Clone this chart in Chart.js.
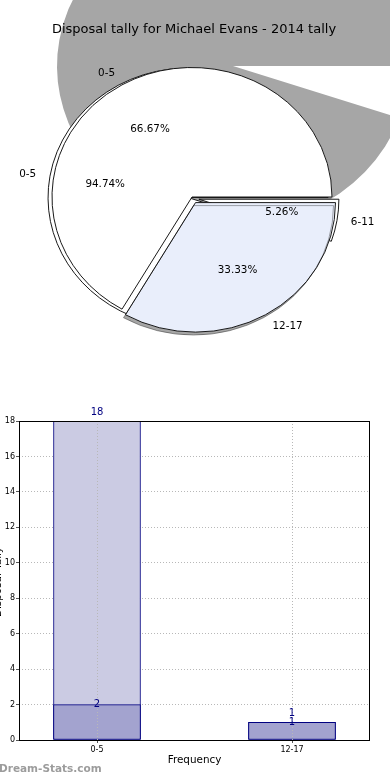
<!DOCTYPE html>
<html>
<head>
<meta charset="utf-8">
<script src="https://cdn.jsdelivr.net/npm/chart.js@4.4.0/dist/chart.umd.min.js"></script>
<style>
  html, body { margin: 0; padding: 0; background: #fff; }
  #page { position: relative; width: 390px; height: 780px; overflow: hidden; }
  canvas { position: absolute; }
</style>
</head>
<body>
<div id="page">
  <canvas id="shadowPie"></canvas>
  <canvas id="pieA"></canvas>
  <canvas id="pieB"></canvas>
  <canvas id="bars"></canvas>
</div>
<script>
const chartTitle = "Disposal tally for Michael Evans - 2014 tally";

// first pie: 0-5 against 6-11
const pieLabelsA = ["0-5", "6-11"];
const pieValuesA = [18, 1];

// second pie: 0-5 against 12-17
const pieLabelsB = ["0-5", "12-17"];
const pieValuesB = [2, 1];

// bar chart (two overlapping series)
const barLabels = ["0-5", "12-17"];
const barValuesBack = [18, 1];
const barValuesFront = [2, 1];
const yTicks = [0, 2, 4, 6, 8, 10, 12, 14, 16, 18];

const FONT = '"DejaVu Sans", sans-serif';

// pies whose labels get written on the top pie canvas
const labelledPies = [];

function placeCanvas(id, left, top, w, h) {
  const c = document.getElementById(id);
  c.width = w;
  c.height = h;
  c.style.left = left + "px";
  c.style.top = top + "px";
  c.style.width = w + "px";
  c.style.height = h + "px";
  return c;
}

// matplotlib lays wedges out counter-clockwise from 3 o'clock,
// Chart.js goes clockwise, so hand the slices over back to front
const rev = (a) => a.slice().reverse();

// wedge labels + percentages, placed the way matplotlib does it
function drawPieText(ctx, chart) {
  const squash = chart.options.plugins.mplPie.squash;
  const ds = chart.data.datasets[0];
  const total = ds.data.reduce((s, v) => s + v, 0);
  ctx.font = "10.4px " + FONT;
  chart.getDatasetMeta(0).data.forEach((arc, i) => {
    const mid = (arc.startAngle + arc.endAngle) / 2;
    const r = arc.outerRadius;
    const d = ds.explode[i];
    const c = Math.cos(mid), s = Math.sin(mid);
    ctx.textAlign = c > 0 ? "left" : "right";
    ctx.fillText(chart.data.labels[i], arc.x + c * (1.1 * r + d), arc.y + s * (1.1 * r + d) * squash);
    ctx.textAlign = "center";
    const pct = (ds.data[i] / total * 100).toFixed(2) + "%";
    ctx.fillText(pct, arc.x + c * (0.6 * r + d), arc.y + s * (0.6 * r + d) * squash);
  });
}

// draws the arcs squashed into an ellipse, with exploded wedges
const piePlugin = {
  id: "mplPie",
  beforeDatasetDraw(chart, args, opts) {
    const ctx = chart.ctx;
    const ds = chart.data.datasets[args.index];
    args.meta.data.forEach((arc, i) => {
      const mid = (arc.startAngle + arc.endAngle) / 2;
      const d = ds.explode[i];
      ctx.save();
      ctx.translate(arc.x, arc.y);
      ctx.scale(1, opts.squash);
      ctx.translate(-arc.x, -arc.y);
      if (ds.shadow[i]) {
        ctx.shadowColor = ds.shadow[i];
        ctx.shadowOffsetX = -2;
        ctx.shadowOffsetY = 3;
      }
      ctx.translate(Math.cos(mid) * d, Math.sin(mid) * d);
      arc.draw(ctx);
      ctx.restore();
    });
    return false;
  },
  afterDraw(chart, args, opts) {
    if (!opts.text) return;
    const ctx = chart.ctx;
    ctx.save();
    ctx.fillStyle = "#000";
    ctx.textBaseline = "middle";
    ctx.font = "13px " + FONT;
    ctx.textAlign = "center";
    ctx.fillText(chartTitle, 194, 30);
    labelledPies.forEach((c) => drawPieText(ctx, c));
    ctx.restore();
  },
};

function makePie(id, box, geo, s) {
  const canvas = placeCanvas(id, box.left, box.top, box.w, box.h);
  const half = geo.r + s.borderWidth / 2;
  const px = geo.cx - box.left;
  const py = geo.cy - box.top;
  return new Chart(canvas, {
    type: "pie",
    data: {
      labels: rev(s.labels),
      datasets: [{
        data: rev(s.values),
        backgroundColor: rev(s.colors),
        borderColor: "#111",
        borderWidth: s.borderWidth,
        explode: rev(s.explode),
        shadow: rev(s.shadow),
      }],
    },
    options: {
      responsive: false,
      animation: false,
      events: [],
      rotation: 90,
      layout: {
        padding: { left: px - half, right: box.w - px - half, top: py - half, bottom: box.h - py - half },
      },
      plugins: {
        legend: { display: false },
        tooltip: { enabled: false },
        mplPie: { squash: geo.k, text: !!s.text },
      },
    },
    plugins: [piePlugin],
  });
}

// the big grey shadow that sits behind everything
makePie("shadowPie", { left: 0, top: -200, w: 420, h: 480 }, { cx: 233, cy: 66, r: 176, k: 0.91 }, {
  labels: pieLabelsA, values: pieValuesA,
  colors: ["#a6a6a6", "rgba(0,0,0,0)"],
  explode: [0, 0], shadow: [null, null], borderWidth: 0,
});

const pieA = makePie("pieA", { left: 0, top: 0, w: 390, h: 360 }, { cx: 191, cy: 198, r: 140, k: 0.925 }, {
  labels: pieLabelsA, values: pieValuesA,
  colors: ["#ffffff", "#ffffff"],
  explode: [3, 8], shadow: [null, null], borderWidth: 1,
});

const pieB = makePie("pieB", { left: 0, top: 0, w: 390, h: 360 }, { cx: 192, cy: 197, r: 140, k: 0.925 }, {
  labels: pieLabelsB, values: pieValuesB,
  colors: ["#ffffff", "#e9eefb"],
  explode: [0, 7], shadow: [null, "rgba(0,0,0,0.35)"], borderWidth: 1, text: true,
});
labelledPies.push(pieA, pieB);
pieB.draw();

// frame, value labels and axis titles for the bar chart
const barPlugin = {
  id: "barDecor",
  afterDraw(chart) {
    const ctx = chart.ctx;
    const a = chart.chartArea;
    ctx.save();
    ctx.strokeStyle = "#000";
    ctx.lineWidth = 1;
    ctx.strokeRect(a.left + 0.5, a.top + 0.5, a.right - a.left - 1, a.bottom - a.top);

    ctx.font = "10px " + FONT;
    ctx.fillStyle = "#000080";
    ctx.textAlign = "center";
    ctx.textBaseline = "middle";
    chart.data.datasets.forEach((ds, di) => {
      chart.getDatasetMeta(di).data.forEach((bar, i) => {
        ctx.fillText(String(ds.data[i].y), bar.x, bar.y - ds.labelLift);
      });
    });

    ctx.fillStyle = "#000";
    ctx.font = "10.4px " + FONT;
    ctx.fillText("Frequency", (a.left + a.right) / 2, 400);

    ctx.save();
    ctx.translate(0.5, 222);
    ctx.rotate(-Math.PI / 2);
    ctx.textBaseline = "alphabetic";
    ctx.fillText("Disposal Tally", 0, 0);
    ctx.restore();

    ctx.font = "bold 10.5px " + FONT;
    ctx.fillStyle = "#9c9c9c";
    ctx.textAlign = "left";
    ctx.fillText("Dream-Stats.com", -1, 409);
    ctx.restore();
  },
};

const barCanvas = placeCanvas("bars", 0, 360, 390, 420);
new Chart(barCanvas, {
  type: "bar",
  data: {
    datasets: [
      {
        data: barValuesBack.map((v, i) => ({ x: i, y: v })),
        backgroundColor: "#cbcbe3",
        borderColor: "#000080",
        borderWidth: 1,
        borderSkipped: false,
        order: 2,
        labelLift: 9,
      },
      {
        data: barValuesFront.map((v, i) => ({ x: i, y: v })),
        backgroundColor: "#a3a3cf",
        borderColor: "#000080",
        borderWidth: 1,
        borderSkipped: false,
        order: 1,
        labelLift: 0,
      },
    ],
  },
  options: {
    responsive: false,
    animation: false,
    events: [],
    layout: { padding: { left: 0, right: 20, top: 61, bottom: 0 } },
    datasets: { bar: { grouped: false, barThickness: 87 } },
    scales: {
      x: {
        type: "linear",
        min: -0.4,
        max: 1.4,
        offset: false,
        afterBuildTicks: (s) => { s.ticks = barLabels.map((_, i) => ({ value: i })); },
        afterFit: (s) => { s.height = 40; },
        ticks: {
          callback: (v) => barLabels[v],
          font: { size: 8, family: FONT },
          color: "#000",
          padding: 2,
          maxRotation: 0,
        },
        grid: { offset: false, color: "#b8b8b8", z: 1, drawTicks: true, tickLength: 3, tickColor: "#555" },
        border: { display: false, dash: [1, 2] },
      },
      y: {
        min: 0,
        max: 18,
        afterBuildTicks: (s) => { s.ticks = yTicks.map((v) => ({ value: v })); },
        afterFit: (s) => { s.width = 19; },
        ticks: { font: { size: 8, family: FONT }, color: "#000", padding: 1 },
        grid: { color: "#b8b8b8", drawTicks: true, tickLength: 3, tickColor: "#555" },
        border: { display: false, dash: [1, 2] },
      },
    },
    plugins: { legend: { display: false }, tooltip: { enabled: false } },
  },
  plugins: [barPlugin],
});
</script>
</body>
</html>
